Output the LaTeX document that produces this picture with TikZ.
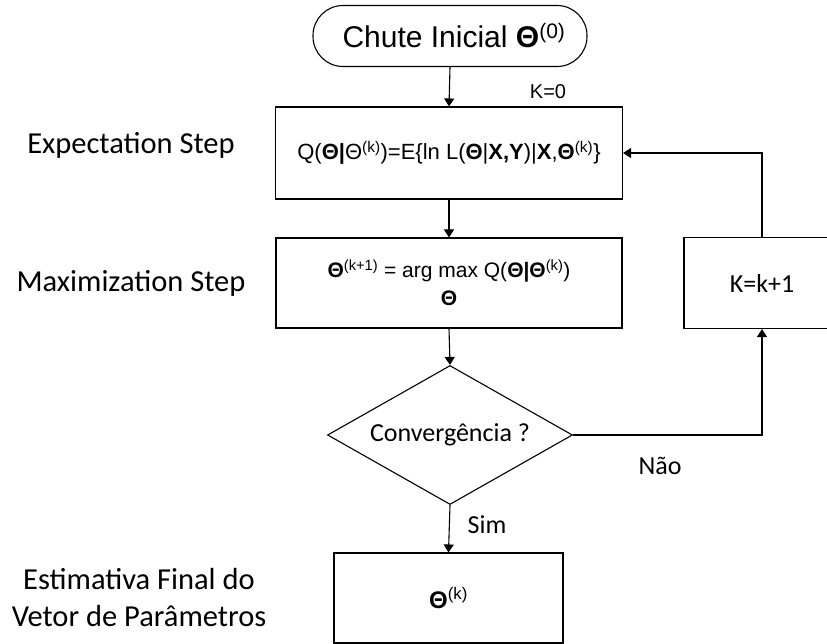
\documentclass[tikz,border=0pt]{standalone}
\usepackage{fontspec}
\setmainfont{Liberation Sans}
\newfontfamily\calib{Carlito}
\usetikzlibrary{arrows.meta,shapes.geometric}
\begin{document}
\begin{tikzpicture}[x=1pt,y=-1pt, line width=1.1pt,
  arr/.style={-{Triangle[width=10pt,length=8pt]}},
  box/.style={draw, rectangle, inner sep=0pt, align=center, font=\fontsize{22}{30}\selectfont},
  clab/.style={font=\calib\fontsize{26}{32}\selectfont, inner sep=0pt},
  side/.style={font=\calib\fontsize{30.5}{37}\selectfont, align=center, inner sep=0pt}]
\useasboundingbox (0,0) rectangle (827,644);
\clip (0,0) rectangle (827,644);
\fill[white] (0,0) rectangle (827,644);

\node[draw, rectangle, rounded corners=30pt, minimum width=274pt, minimum height=61pt,
      inner sep=0pt, font=\fontsize{30}{36}\selectfont] (start) at (450,36)
      {\hspace{8pt}Chute Inicial \textbf{Θ}\textsuperscript{(0)}};

\node[box, minimum width=347pt, minimum height=92pt] (exp) at (449,153)
  {Q(\textbf{Θ|}Θ\textsuperscript{(k)})=E\{ln L(\textbf{Θ}|\textbf{X,Y})|\textbf{X},\textbf{Θ}\textsuperscript{(k)}\}};

\node[box, minimum width=346pt, minimum height=90pt, font=\fontsize{21}{28}\selectfont] (max) at (449,283)
  {\textbf{Θ}\textsuperscript{(k+1)} = arg max Q(\textbf{Θ|Θ}\textsuperscript{(k)})\\ \textbf{Θ}};

\node[draw, rectangle, inner sep=0pt, minimum width=156pt, minimum height=91pt,
      font=\calib\fontsize{26}{32}\selectfont] (kb) at (762,283) {K=k+1};

\node[draw, diamond, aspect=1.76, inner sep=0pt, minimum width=245pt, minimum height=139pt,
      font=\calib\fontsize{26}{32}\selectfont] (dia) at (450,435) {Convergência ?};

\node[box, minimum width=229pt, minimum height=90pt, font=\fontsize{24}{30}\selectfont] (fin) at (448.5,598)
  {\textbf{Θ}\textsuperscript{(k)}};

\node[side] (l1) at (131,145) {Expectation Step};
\node[side] (l2) at (131,283) {Maximization Step};
\node[side] (l3) at (139,598) {Estimativa Final do\\Vetor de Parâmetros};

\node[font=\fontsize{20}{24}\selectfont, inner sep=0pt] (k0) at (548,92) {K=0};
\node[clab] (nao) at (660,466) {Não};
\node[clab] (sim) at (487,525) {Sim};

\draw[arr] (start.south) -- (exp.north);
\draw[arr] (exp.south) -- (max.north);
\draw[arr] (max.south) -- (dia.north);
\draw[arr] (dia.south) -- (fin.north);
\draw[arr] (dia.east) -| (kb.south);
\draw[arr] (kb.north) |- (exp.east);
\end{tikzpicture}
\end{document}
